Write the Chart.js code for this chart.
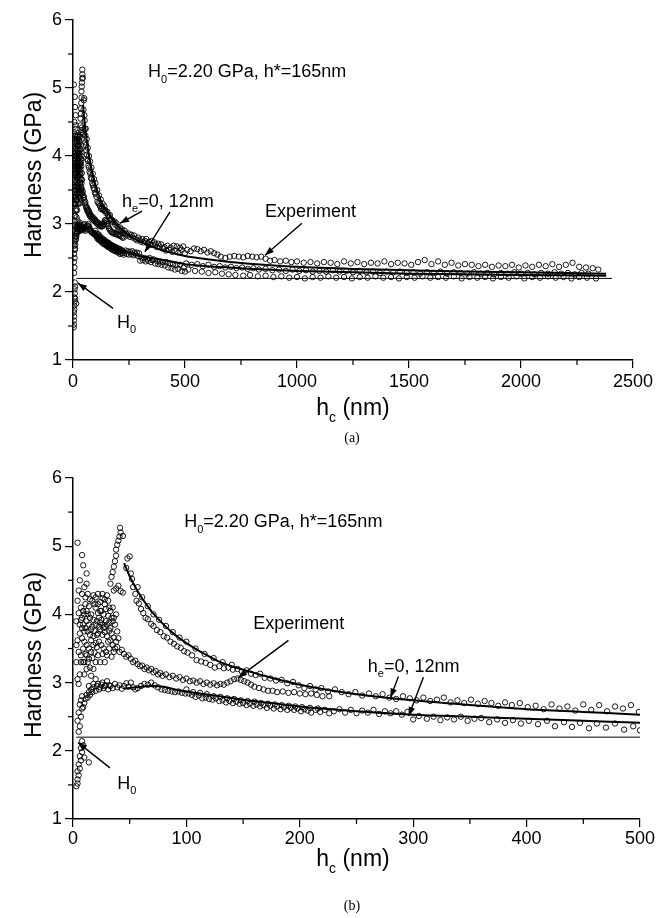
<!DOCTYPE html>
<html>
<head>
<meta charset="utf-8">
<script src="https://cdn.jsdelivr.net/npm/chart.js@4.4.0/dist/chart.umd.min.js"></script>
<style>
  body { margin: 0; background: #fff; width: 663px; height: 918px; overflow: hidden; }
  .panel { position: absolute; left: 0; }
</style>
</head>
<body>
<div class="panel" style="top:0"><canvas id="chartA" width="663" height="450"></canvas></div>
<div class="panel" style="top:450px"><canvas id="chartB" width="663" height="468"></canvas></div>
<script>
// ---- fitted model curves ----
const hcUpperFit = [45, 50, 55, 60, 65, 70, 80, 90, 100, 115, 130, 150, 175, 200, 250, 300, 350, 400, 450, 500, 600, 700, 850, 1000, 1250, 1500, 1750, 2000, 2200, 2380];
const hUpperFit  = [4.75, 4.56, 4.4, 4.26, 4.14, 4.03, 3.85, 3.7, 3.58, 3.43, 3.3, 3.19, 3.07, 2.97, 2.83, 2.74, 2.67, 2.61, 2.57, 2.53, 2.48, 2.44, 2.40, 2.37, 2.34, 2.32, 2.30, 2.29, 2.28, 2.27];
const hcLowerFit = [45, 55, 65, 72, 80, 90, 100, 125, 150, 175, 200, 250, 300, 350, 400, 450, 500, 600, 700, 850, 1000, 1250, 1500, 1750, 2000, 2200, 2380];
const hLowerFit  = [2.91, 2.93, 2.945, 2.95, 2.94, 2.9, 2.87, 2.81, 2.75, 2.7, 2.65, 2.58, 2.53, 2.5, 2.47, 2.44, 2.41, 2.38, 2.36, 2.33, 2.31, 2.29, 2.27, 2.26, 2.25, 2.245, 2.24];
const h0Value = 2.2;
const h0SpanA = [15, 2406];
const h0SpanB = [3, 500];

// ---- experimental points [hc (nm), H (GPa)] ----
const expLowBranch = [[3,1.48],[4,1.52],[4,1.58],[5,1.64],[4,1.7],[6,1.74],[5,1.8],[7,1.86],[6,1.92],[8,1.98],[7,2.04],[9,2.08],[8,2.14],[10,1.9],[14,1.83],
  [5,2.28],[6,2.36],[4,2.44],[7,2.5],[5,2.56],[8,2.62],[6,2.68],[9,2.64],[7,2.74],[10,2.7],[8,2.8],[11,2.76],[12,2.82],[13,2.78],[14,2.86],[15,2.82],[16,2.9],[17,2.86],[18,2.93],[20,2.88],
  [21,2.95],[23,2.9],[25,2.97],[27,2.92],[29,2.96],[31,2.9],[33,2.95],[35,2.92],[37,2.98],[39,2.93],[41,2.96],[43,2.91],[45,2.95],[47,2.99],[49,2.94],[51,3.0],[53,2.93],[55,2.9],[57,2.92],
  [60,2.95],[63,2.98],[66,2.97],[69,3.0],[72,2.96],[75,2.93],[78,2.9],[81,2.89],[84,2.88],[87,2.87],[90,2.86],[93,2.87],[96,2.85],[99,2.84],[102,2.84],
  [105,2.82],[108,2.79],[111,2.81],[114,2.77],[117,2.78],[120,2.76],[123,2.75],[126,2.77],[129,2.73],[132,2.74],[135,2.71],[138,2.73],[141,2.7],[144,2.72],[147,2.69],[150,2.7],
  [153,2.67],[156,2.69],[159,2.66],[162,2.68],[165,2.65],[168,2.67],[171,2.63],[174,2.66],[177,2.62],[180,2.65],[183,2.61],[186,2.64],[189,2.6],[192,2.63],[195,2.6],[198,2.62],
  [201,2.58],[204,2.61],[207,2.59],[210,2.56],[214,2.6],[218,2.57],[222,2.6],[226,2.55],[230,2.58],[235,2.61],[240,2.56],[245,2.6],[250,2.55],[255,2.59],[260,2.56],[265,2.6],
  [270,2.54],[275,2.58],[280,2.55],[285,2.58],[290,2.53],[295,2.57],[300,2.46],[305,2.51],[312,2.47],[318,2.5],[324,2.45],[330,2.49],[336,2.46],[342,2.5],[348,2.44],[354,2.47],
  [360,2.48],[367,2.42],[374,2.46],[381,2.41],[388,2.45],[395,2.4],[402,2.44],[410,2.39],[418,2.44],[425,2.36],[433,2.42],[440,2.35],[447,2.41],[455,2.33],[462,2.4],[470,2.34],
  [478,2.4],[486,2.31],[494,2.36],[500,2.3]];
const expLowerRow = [[100,2.9],[106,2.86],[112,2.85],[118,2.83],[124,2.8],[130,2.79],[136,2.77],[142,2.76],[148,2.74],[154,2.73],[160,2.72],[166,2.7],[172,2.69],[178,2.68],
  [184,2.67],[190,2.66],[196,2.65],[202,2.64],[209,2.63],[216,2.62]];
const expLeftCluster = [[4,5.05],[8,4.87],[9,4.72],[12,4.6],[12,4.45],[13,4.3],[15,4.22],[18,4.28],[20,4.25],[22,4.3],[24,4.18],[26,4.24],[28,4.15],[30,4.28],[32,4.1],
  [5,4.02],[7,3.92],[9,3.85],[11,3.8],[13,3.75],[15,3.7],[17,3.82],[19,3.76],[21,3.9],[23,3.95],[25,4.05],[27,4.0],[29,4.08],[31,3.98],[33,4.05],[35,3.9],
  [6,3.72],[8,3.65],[10,3.6],[12,3.55],[14,3.5],[16,3.62],[18,3.68],[20,3.58],[22,3.72],[24,3.78],[26,3.7],[28,3.74],[30,3.68],[32,3.76],[34,3.72],[36,3.66],
  [5,3.45],[7,3.4],[9,3.5],[11,3.42],[13,3.3],[15,3.22],[17,3.36],[19,3.44],[21,3.52],[23,3.6],[25,3.55],[27,3.5],[29,3.45],[31,3.6],
  [4,3.62],[6,3.85],[8,3.95],[10,4.0],[12,4.05],[14,4.12],[16,4.0],[18,3.92],[20,4.1],[22,4.02],[24,3.88],[26,3.85],[28,3.82],
  [4,3.05],[5,2.98],[6,3.12],[10,3.12],[12,3.2],[14,2.95],[16,3.1],[18,2.98],[20,3.05],[22,2.98],[24,2.93],[26,3.0],[28,2.95],[30,3.02],[32,2.96],
  [3,3.9],[3,3.55],[3,3.3],[4,4.2],[5,4.35],[6,4.5],[7,4.1],[8,3.8],[9,3.3],[10,3.75],[11,4.15],[12,3.9],[13,4.0],[14,3.85],[15,3.95],[16,3.78],[17,4.2],[18,3.55],
  [19,4.15],[20,3.85],[21,3.7],[22,4.15],[23,3.82],[24,4.05],[25,3.92],[26,4.3],[27,3.8],[28,4.22],[29,3.9],[30,3.85],[31,4.2],[32,3.88],[33,3.8],[34,3.95],[35,4.1],
  [36,3.95],[37,3.85],[38,4.0],[39,3.75],[40,3.65],[8,4.3],[10,4.4],[11,4.25],[9,4.05],[7,3.3],[10,3.3],[12,3.4],[14,3.35],[16,3.45],[18,3.2],[20,3.3],[22,3.4],[24,3.3],
  [26,3.42],[28,3.3],[30,3.4],[32,3.5],[34,3.38],[36,3.45],[38,3.6]];
const expPeak = [[33,4.45],[34,4.55],[35,4.62],[36,4.7],[37,4.78],[38,4.86],[38,4.95],[39,5.02],[40,5.08],[41,5.14],[42,5.2],[41.5,5.27],[44,5.15],
  [36,4.35],[38,4.38],[40,4.42],[42,4.34],[44,4.32],[48,4.82],[50,4.85]];
const expUpperBranch = [[52,4.52],[53,4.4],[55,4.3],[56,4.2],[58,4.16],[60,4.08],[62,4.02],[64,3.95],[66,3.93],[69,3.86],[71,3.83],[74,3.77],[77,3.74],[80,3.68],[83,3.66],
  [86,3.6],[89,3.57],[92,3.53],[95,3.51],[98,3.46],[101,3.44],[105,3.4],[109,3.33],[113,3.31],[117,3.29],[121,3.26],[125,3.22],[129,3.24],[133,3.21],[137,3.22],[141,3.19],
  [145,3.2],[149,3.16],[153,3.18],[157,3.13],[161,3.11],[165,3.13],[169,3.07],[174,3.06],[179,3.03],[184,3.04],[189,2.99],[194,3.01],[199,2.96],[204,2.92],[209,2.95],[214,2.9],
  [219,2.92],[225,2.87],[231,2.9],[237,2.86],[243,2.83],[249,2.86],[255,2.81],[261,2.84],[267,2.8],[273,2.83],[279,2.78],[285,2.76],[291,2.8],[297,2.77],[303,2.74],[309,2.78],
  [315,2.73],[321,2.75],[327,2.78],[333,2.71],[339,2.74],[345,2.7],[351,2.75],[357,2.69],[363,2.73],[369,2.7],[375,2.66],[381,2.71],[387,2.67],[394,2.7],[401,2.64],[408,2.66],
  [415,2.61],[422,2.68],[429,2.62],[436,2.65],[443,2.59],[450,2.68],[457,2.6],[464,2.67],[471,2.58],[478,2.65],[485,2.62],[492,2.67],[499,2.57]];
const expUpperRow = [[47,4.68],[51,4.6],[57,4.4],[61,4.25],[66,4.12],[71,4.0],[76,3.92],[82,3.83],[88,3.74],[94,3.66],[100,3.6],[108,3.5],[116,3.42],[124,3.36],[132,3.3],[140,3.26]];
const expMiddleBranch = [[33,3.62],[35,3.55],[37,3.5],[39,3.52],[41,3.45],[43,3.48],[45,3.42],[47,3.38],[49,3.4],[51,3.35],[53,3.3],[55,3.32],[57,3.27],[59,3.24],[61,3.25],
  [63,3.2],[65,3.22],[67,3.18],[69,3.2],[71,3.15],[73,3.17],[75,3.12],[77,3.14],[79,3.1],[82,3.12],[85,3.08],[88,3.1],[91,3.06],[94,3.08],[97,3.04],[100,3.06],[103,3.02],
  [106,3.03],[109,3.0],[112,3.02],[115,2.98],[118,3.0],[121,2.97],[124,2.99],[127,2.96],[130,2.98],[133,2.97],[136,3.0],[139,3.02],[142,3.05],[145,3.06],[148,3.04],[151,3.02],
  [154,3.0],[157,2.97],[160,2.94],[164,2.92],[168,2.9],[172,2.88],[176,2.88],[180,2.86],[185,2.87],[190,2.85],[195,2.86],[200,2.84],[205,2.83],[210,2.84],[215,2.82],[220,2.8],[226,2.8]];
const expTailUpper = [[510,2.62],[525,2.6],[540,2.64],[555,2.63],[570,2.6],[585,2.62],[600,2.58],[615,2.6],[630,2.57],[645,2.55],[660,2.52],[680,2.5],[700,2.52],[720,2.53],
  [740,2.52],[760,2.51],[780,2.53],[800,2.52],[820,2.51],[840,2.52],[860,2.49],[880,2.46],[900,2.47],[925,2.45],[950,2.46],[975,2.44],[1000,2.45],[1030,2.43],[1060,2.44],
  [1090,2.42],[1120,2.44],[1150,2.43],[1180,2.41],[1210,2.45],[1240,2.42],[1270,2.44],[1300,2.41],[1330,2.43],[1360,2.42],[1390,2.45],[1420,2.41],[1450,2.43],[1480,2.42],
  [1510,2.4],[1540,2.44],[1570,2.47],[1600,2.41],[1630,2.45],[1660,2.4],[1690,2.43],[1720,2.39],[1750,2.41],[1780,2.4],[1810,2.38],[1840,2.4],[1870,2.37],[1900,2.39],
  [1930,2.38],[1960,2.4],[1990,2.36],[2020,2.39],[2050,2.37],[2080,2.4],[2110,2.38],[2140,2.41],[2170,2.37],[2200,2.4],[2230,2.43],[2260,2.37],[2290,2.36],[2320,2.35],[2345,2.33]];
const expTailMiddle = [[505,2.42],[530,2.4],[555,2.41],[580,2.38],[605,2.4],[630,2.37],[655,2.38],[680,2.36],[705,2.37],[730,2.35],[755,2.36],[780,2.34],[805,2.35],[830,2.33],
  [860,2.34],[890,2.32],[920,2.33],[950,2.31],[980,2.33],[1010,2.31],[1040,2.32],[1070,2.3],[1100,2.31],[1130,2.3],[1160,2.32],[1190,2.3],[1220,2.31],[1250,2.29],[1280,2.31],
  [1310,2.29],[1340,2.3],[1370,2.28],[1400,2.3],[1430,2.29],[1460,2.3],[1490,2.28],[1520,2.29],[1550,2.27],[1580,2.29],[1610,2.28],[1640,2.3],[1670,2.27],[1700,2.29],[1730,2.28],
  [1760,2.27],[1790,2.29],[1820,2.27],[1850,2.28],[1880,2.26],[1910,2.28],[1940,2.27],[1970,2.29],[2000,2.27],[2030,2.28],[2060,2.26],[2090,2.28],[2120,2.27],[2150,2.29],
  [2180,2.27],[2210,2.28],[2240,2.26],[2270,2.28],[2300,2.27]];
const expTailLower = [[515,2.33],[545,2.31],[575,2.3],[605,2.28],[635,2.29],[665,2.27],[695,2.26],[725,2.25],[760,2.24],[790,2.25],[825,2.23],[860,2.24],[895,2.22],[930,2.23],
  [965,2.21],[1000,2.22],[1035,2.2],[1070,2.22],[1105,2.21],[1140,2.23],[1175,2.21],[1210,2.22],[1245,2.2],[1280,2.22],[1315,2.21],[1350,2.23],[1385,2.21],[1420,2.22],[1455,2.2],
  [1490,2.22],[1525,2.21],[1560,2.23],[1595,2.21],[1630,2.22],[1665,2.21],[1700,2.23],[1735,2.2],[1770,2.22],[1805,2.21],[1840,2.22],[1875,2.2],[1910,2.22],[1945,2.21],
  [1980,2.23],[2015,2.2],[2050,2.22],[2085,2.21],[2120,2.23],[2155,2.21],[2190,2.22],[2225,2.2],[2260,2.22],[2295,2.21],[2335,2.2]];

const experiment = [].concat(expLowBranch, expLowerRow, expLeftCluster, expPeak, expUpperBranch, expUpperRow, expMiddleBranch, expTailUpper, expTailMiddle, expTailLower)
  .map(([x, y]) => ({ x, y }));

// ---- axis ticks ----
const yTicksMinor = [1.5, 2.5, 3.5, 4.5, 5.5];
const xTicksMinorA = [250, 750, 1250, 1750, 2250];
const xTicksMinorB = [50, 150, 250, 350, 450];

const FONT = '"Liberation Sans", Arial, Helvetica, sans-serif';
const SERIF = '"Liberation Serif", "Times New Roman", serif';

// annotation text/arrows, positioned in data units
const notes = {
  chartA: {
    texts: [
      { x: 335, y: 5.16, parts: [['H'], ['0', 1], ['=2.20 GPa, h*=165nm']] },
      { x: 219, y: 3.25, parts: [['h'], ['e', 1], ['=0, 12nm']] },
      { x: 857, y: 3.10, parts: [['Experiment']] },
      { x: 196, y: 1.47, parts: [['H'], ['0', 1]] }
    ],
    arrows: [[308, 3.19, 210, 3.01], [433, 3.18, 321, 2.59], [1022, 3.01, 857, 2.54], [179, 1.76, 22, 2.13]],
    minorX: xTicksMinorA,
    yTitle: { x: 41, y: 175 },
    xTitle: { x: 353, y: 415 },
    caption: { text: '(a)', x: 352, y: 442 }
  },
  chartB: {
    texts: [
      { x: 98, y: 5.28, parts: [['H'], ['0', 1], ['=2.20 GPa, h*=165nm']] },
      { x: 159, y: 3.78, parts: [['Experiment']] },
      { x: 260, y: 3.16, parts: [['h'], ['e', 1], ['=0, 12nm']] },
      { x: 39, y: 1.44, parts: [['H'], ['0', 1]] }
    ],
    arrows: [[190, 3.62, 145.5, 3.07], [287, 3.09, 280, 2.78], [309, 3.08, 296, 2.51], [32.6, 1.75, 4.4, 2.12]],
    minorX: xTicksMinorB,
    yTitle: { x: 41, y: 205 },
    xTitle: { x: 353, y: 416 },
    caption: { text: '(b)', x: 352, y: 460 }
  }
};

function richWidth(ctx, parts, size) {
  let w = 0;
  parts.forEach(p => {
    ctx.font = (p[1] ? Math.round(size * 0.62) : size) + 'px ' + FONT;
    w += ctx.measureText(p[0]).width;
  });
  return w;
}

function drawRich(ctx, parts, x, y, size) {
  let cx = x;
  parts.forEach(p => {
    ctx.font = (p[1] ? Math.round(size * 0.62) : size) + 'px ' + FONT;
    ctx.fillText(p[0], cx, p[1] ? y + size * 0.3 : y);
    cx += ctx.measureText(p[0]).width;
  });
}

function drawArrow(ctx, x1, y1, x2, y2) {
  ctx.beginPath();
  ctx.moveTo(x1, y1);
  ctx.lineTo(x2, y2);
  ctx.lineWidth = 1.4;
  ctx.stroke();
  const a = Math.atan2(y2 - y1, x2 - x1), L = 9, W = 3.3;
  ctx.beginPath();
  ctx.moveTo(x2, y2);
  ctx.lineTo(x2 - L * Math.cos(a) + W * Math.sin(a), y2 - L * Math.sin(a) - W * Math.cos(a));
  ctx.lineTo(x2 - L * Math.cos(a) - W * Math.sin(a), y2 - L * Math.sin(a) + W * Math.cos(a));
  ctx.closePath();
  ctx.fill();
}

const paperPlugin = {
  id: 'paper',
  afterDraw(chart) {
    const n = notes[chart.canvas.id];
    const { ctx, chartArea } = chart;
    const xs = chart.scales.x, ys = chart.scales.y;
    ctx.save();
    ctx.fillStyle = '#000';
    ctx.strokeStyle = '#000';
    ctx.textAlign = 'left';
    ctx.textBaseline = 'alphabetic';

    // minor ticks
    ctx.lineWidth = 1.2;
    n.minorX.forEach(v => {
      const px = xs.getPixelForValue(v);
      ctx.beginPath(); ctx.moveTo(px, chartArea.bottom); ctx.lineTo(px, chartArea.bottom + 5); ctx.stroke();
    });
    yTicksMinor.forEach(v => {
      const py = ys.getPixelForValue(v);
      ctx.beginPath(); ctx.moveTo(chartArea.left, py); ctx.lineTo(chartArea.left - 5, py); ctx.stroke();
    });

    // annotations
    n.texts.forEach(t => drawRich(ctx, t.parts, xs.getPixelForValue(t.x), ys.getPixelForValue(t.y), 18));
    n.arrows.forEach(a => drawArrow(ctx, xs.getPixelForValue(a[0]), ys.getPixelForValue(a[1]), xs.getPixelForValue(a[2]), ys.getPixelForValue(a[3])));

    // axis titles
    ctx.save();
    ctx.translate(n.yTitle.x, n.yTitle.y);
    ctx.rotate(-Math.PI / 2);
    ctx.font = '23px ' + FONT;
    ctx.textAlign = 'center';
    ctx.fillText('Hardness (GPa)', 0, 0);
    ctx.restore();

    const xt = [['h'], ['c', 1], [' (nm)']];
    drawRich(ctx, xt, n.xTitle.x - richWidth(ctx, xt, 23) / 2, n.xTitle.y, 23);

    ctx.font = '14px ' + SERIF;
    ctx.textAlign = 'center';
    ctx.fillText(n.caption.text, n.caption.x, n.caption.y);
    ctx.restore();
  }
};

function makeChart(id, xMax, xStep, h0Span, padding, xHeight, xPad) {
  const axisGrid = { drawOnChartArea: false, drawTicks: true, tickLength: 8, color: '#000', lineWidth: 1.2 };
  const axisBorder = { display: true, color: '#000', width: 1.5 };
  const tickFont = { family: FONT, size: 18 };
  return new Chart(document.getElementById(id), {
    type: 'scatter',
    data: {
      datasets: [
        { data: hcUpperFit.map((x, i) => ({ x, y: hUpperFit[i] })), showLine: true, borderColor: '#000', borderWidth: 2, pointRadius: 0, cubicInterpolationMode: 'monotone' },
        { data: hcLowerFit.map((x, i) => ({ x, y: hLowerFit[i] })), showLine: true, borderColor: '#000', borderWidth: 2, pointRadius: 0, cubicInterpolationMode: 'monotone' },
        { data: h0Span.map(x => ({ x, y: h0Value })), showLine: true, borderColor: '#000', borderWidth: 1, pointRadius: 0 },
        { data: experiment, pointRadius: 2.7, pointStyle: 'circle', borderColor: '#000', borderWidth: 0.9, backgroundColor: 'rgba(0,0,0,0)' }
      ]
    },
    options: {
      responsive: false,
      animation: false,
      devicePixelRatio: 1,
      layout: { padding },
      plugins: { legend: { display: false }, tooltip: { enabled: false } },
      scales: {
        x: {
          type: 'linear', min: 0, max: xMax,
          afterFit: s => { s.height = xHeight; },
          ticks: { stepSize: xStep, color: '#000', font: tickFont, padding: xPad, maxRotation: 0, callback: v => String(v) },
          grid: axisGrid, border: axisBorder
        },
        y: {
          type: 'linear', min: 1, max: 6,
          afterFit: s => { s.width = 73; },
          ticks: { stepSize: 1, color: '#000', font: tickFont, padding: 3, callback: v => String(v) },
          grid: axisGrid, border: axisBorder
        }
      }
    },
    plugins: [paperPlugin]
  });
}

makeChart('chartA', 2500, 500, h0SpanA, { left: 0, top: 20, right: 30, bottom: 0 }, 90, 3);
makeChart('chartB', 500, 100, h0SpanB, { left: 0, top: 28, right: 23, bottom: 0 }, 99, 1);
</script>
</body>
</html>
